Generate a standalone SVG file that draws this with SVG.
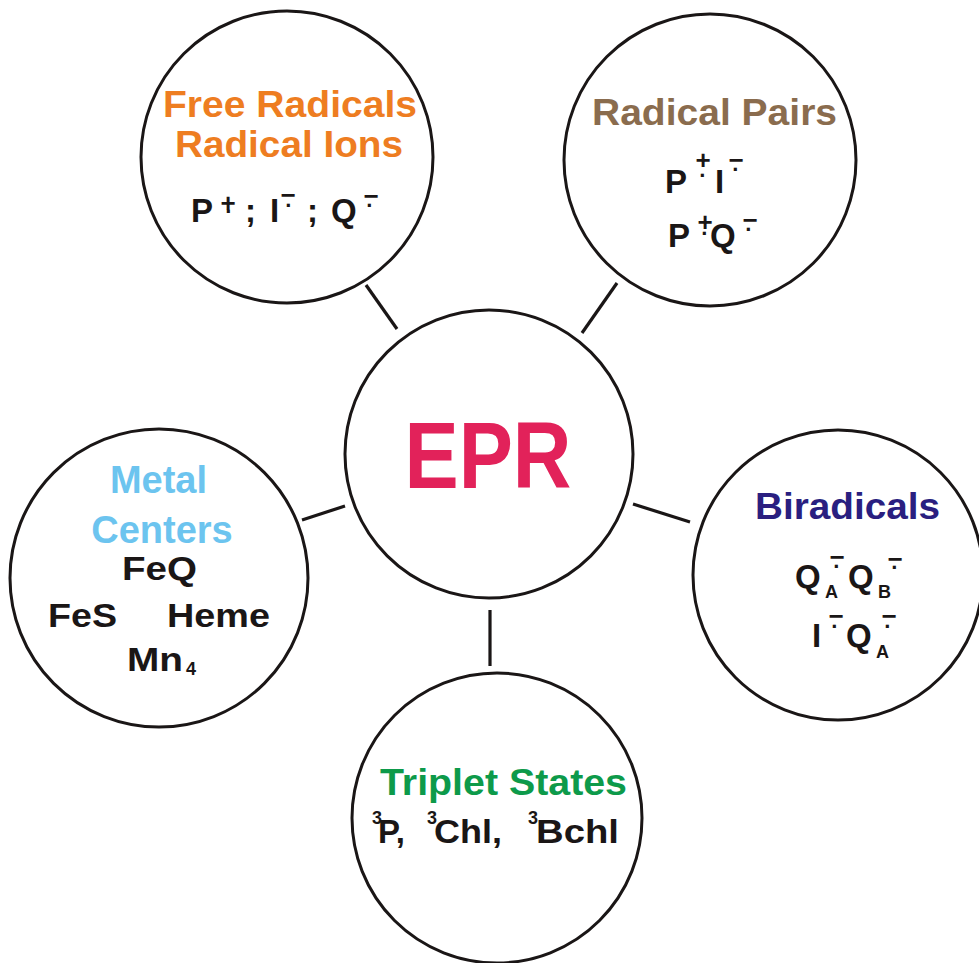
<svg xmlns="http://www.w3.org/2000/svg" width="979" height="963" viewBox="0 0 979 963">
<style>
text{font-family:"Liberation Sans",Arial,sans-serif;font-weight:bold}
.c{fill:none;stroke:#1a1616;stroke-width:3}
.k{stroke:#1a1616;stroke-width:3.2}
.h{font-size:36px}
.b{font-size:33px;fill:#1a1616}
.s{font-size:26px;fill:#1a1616;text-anchor:middle}
.d{font-size:22px}
.u{font-size:18px;fill:#1a1616}
.mid{text-anchor:middle}
</style>
<rect width="979" height="963" fill="#fff"/>
<g id="connectors">
<line class="k" x1="366" y1="285" x2="397" y2="329"/>
<line class="k" x1="617" y1="283" x2="582" y2="333"/>
<line class="k" x1="302" y1="520" x2="345" y2="506"/>
<line class="k" x1="633" y1="504" x2="690" y2="522"/>
<line class="k" x1="490" y1="610" x2="490" y2="666"/>
</g>
<g id="epr">
<circle class="c" cx="489" cy="454" r="144"/>
<text class="mid" x="488" y="488" font-size="95" fill="#E2225A" textLength="167" lengthAdjust="spacingAndGlyphs">EPR</text>
</g>
<g id="free-radicals">
<circle class="c" cx="287" cy="157" r="146"/>
<text class="h mid" x="290" y="117" fill="#EE7D21" textLength="254" lengthAdjust="spacingAndGlyphs">Free Radicals</text>
<text class="h mid" x="289" y="157" fill="#EE7D21" textLength="228" lengthAdjust="spacingAndGlyphs">Radical Ions</text>
<text class="b" x="191" y="222">P</text>
<text class="s" x="228" y="211.5">+<tspan class="d" x="229" y="219">·</tspan></text>
<text class="b" x="245" y="222">;</text>
<text class="b" x="270" y="222">I</text>
<text class="s" x="288" y="204.3">−<tspan class="d" x="289" y="213">·</tspan></text>
<text class="b" x="307" y="222">;</text>
<text class="b" x="331" y="222">Q</text>
<text class="s" x="371" y="205.3">−<tspan class="d" x="370" y="213">·</tspan></text>
</g>
<g id="radical-pairs">
<circle class="c" cx="710" cy="160" r="146"/>
<text class="h mid" x="714.5" y="125" fill="#8A6C4E" textLength="245" lengthAdjust="spacingAndGlyphs">Radical Pairs</text>
<text class="b" x="665" y="193">P</text>
<text class="s" x="703" y="168.5">+<tspan class="d" x="703" y="183">·</tspan></text>
<text class="b" x="715" y="193">I</text>
<text class="s" x="736" y="169.3">−<tspan class="d" x="736" y="177">·</tspan></text>
<text class="b" x="668" y="247">P</text>
<text class="s" x="705" y="230.5">+<tspan class="d" x="705" y="241">·</tspan></text>
<text class="b" x="710" y="247">Q</text>
<text class="s" x="750" y="229.3">−<tspan class="d" x="749" y="237">·</tspan></text>
</g>
<g id="metal-centers">
<circle class="c" cx="159" cy="578" r="149"/>
<text class="mid" x="158.5" y="493" font-size="38" fill="#6CC4EF">Metal</text>
<text class="mid" x="162" y="543" font-size="38" fill="#6CC4EF">Centers</text>
<text class="b" x="122" y="580" textLength="75" lengthAdjust="spacingAndGlyphs">FeQ</text>
<text class="b" x="48" y="627" textLength="69" lengthAdjust="spacingAndGlyphs">FeS</text>
<text class="b" x="167" y="627" textLength="103" lengthAdjust="spacingAndGlyphs">Heme</text>
<text class="b" x="127" y="671" textLength="56" lengthAdjust="spacingAndGlyphs">Mn</text>
<text class="u" x="186" y="675">4</text>
</g>
<g id="biradicals">
<circle class="c" cx="838" cy="575" r="145"/>
<text class="h mid" x="847.5" y="519" fill="#2A1F80" textLength="185" lengthAdjust="spacingAndGlyphs">Biradicals</text>
<text class="b" x="795" y="588">Q<tspan class="u" x="825" y="598">A</tspan></text>
<text class="s" x="837" y="566.3">−<tspan class="d" x="837" y="574">·</tspan></text>
<text class="b" x="848" y="588">Q<tspan class="u" x="878" y="598">B</tspan></text>
<text class="s" x="895" y="568.3">−<tspan class="d" x="895" y="575">·</tspan></text>
<text class="b" x="812" y="647">I</text>
<text class="s" x="836" y="625.3">−<tspan class="d" x="835" y="634">·</tspan></text>
<text class="b" x="846" y="647">Q<tspan class="u" x="876" y="658">A</tspan></text>
<text class="s" x="889" y="625.3">−<tspan class="d" x="888" y="634">·</tspan></text>
</g>
<g id="triplet-states">
<circle class="c" cx="497" cy="818" r="145"/>
<text class="h mid" x="503.5" y="795" fill="#0D9A4A" textLength="247" lengthAdjust="spacingAndGlyphs">Triplet States</text>
<text class="u" x="372" y="824">3</text>
<text class="b" x="378" y="843">P,</text>
<text class="u" x="427" y="824">3</text>
<text class="b" x="434" y="843" textLength="68" lengthAdjust="spacingAndGlyphs">Chl,</text>
<text class="u" x="528" y="824">3</text>
<text class="b" x="536" y="843" textLength="83" lengthAdjust="spacingAndGlyphs">Bchl</text>
</g>
</svg>
